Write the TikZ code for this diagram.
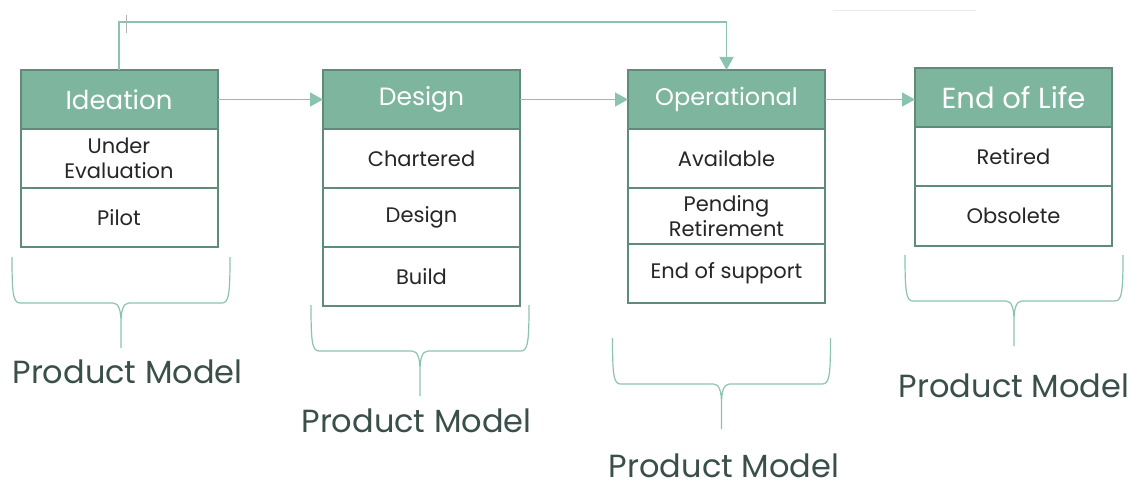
\documentclass[tikz,border=0pt]{standalone}
\usepackage{fontspec}
\setmainfont{Poppins}
\usepackage{xcolor}
\usetikzlibrary{arrows.meta, positioning, calc}

\definecolor{sage}{HTML}{7DB59E}
\definecolor{sagedark}{HTML}{5E8C79}
\definecolor{sageline}{HTML}{8CC3AE}
\definecolor{modeltext}{HTML}{3A4E4A}

\begin{document}
\begin{tikzpicture}[x=1pt, y=1pt,
  >={Triangle[length=13pt, width=14pt]}, node distance=0pt,
  phase/.style={draw=sagedark, fill=sage, line width=2pt, minimum width=197pt,
                minimum height=59pt, inner sep=0pt, outer sep=0pt, text=white,
                font=\fontsize{25}{27}\selectfont},
  status/.style={draw=sagedark, fill=white, line width=2pt, minimum width=197pt,
                 minimum height=59pt, inner sep=0pt, outer sep=0pt, align=center,
                 text=black!85, font=\fontsize{21}{25}\selectfont},
  flow/.style={->, draw=sageline, line width=1.5pt},
  group/.style={draw=sageline, line width=1.2pt},
  model/.style={anchor=base, inner sep=1pt, text=modeltext,
                font=\fontsize{32}{34}\selectfont},
  pmbrace/.pic={
    \draw[group] (-109,0) .. controls (-109,-36) and (-108,-46) .. (-101,-46)
      -- (-8,-46) .. controls (-2,-46) and (0,-54) .. (0,-66) -- (0,-91)
      (109,0) .. controls (109,-36) and (108,-46) .. (101,-46)
      -- (8,-46) .. controls (2,-46) and (0,-54) .. (0,-66);
  }]
  \useasboundingbox (0,0) rectangle (1134,488);

  \node[phase, font=\fontsize{26}{28}\selectfont] (ideation) at (119,388.5) {Ideation};
  \node[status, below=of ideation] (uneval) {Under\\Evaluation};
  \node[status, below=of uneval] (pilot) {Pilot};

  \node[phase] (design) at (421.5,388.5) {Design};
  \node[status, below=of design] (chartered) {Chartered};
  \node[status, below=of chartered] (designst) {Design};
  \node[status, below=of designst] (build) {Build};

  \node[phase, font=\fontsize{24}{26}\selectfont] (operational) at (726.5,388.5) {Operational};
  \node[status, below=of operational] (available) {Available};
  \node[status, below=of available, minimum height=56pt] (pending) {Pending\\Retirement};
  \node[status, below=of pending] (endsupport) {End of support};

  \node[phase, font=\fontsize{29}{31}\selectfont] (eol) at (1013.5,390) {End of Life};
  \node[status, below=of eol] (retired) {Retired};
  \node[status, below=of retired] (obsolete) {Obsolete};

  \draw[flow] (ideation.east) -- (ideation.east -| design.west);
  \draw[flow] (design.east) -- (design.east -| operational.west);
  \draw[flow] (operational.east) -- (operational.east -| eol.west);
  \coordinate (loop) at (0,466);
  \draw[flow] (ideation.north) |- (loop -| operational.north) -- (operational.north);

  \pic at (121,231) {pmbrace};
  \pic at (420,183) {pmbrace};
  \pic at (721.5,150) {pmbrace};
  \pic at (1014,233) {pmbrace};

  \node[model] (model1) at (127.5,105) {Product Model};
  \node[model] (model2) at (416.5,56) {Product Model};
  \node[model] (model3) at (724,11) {Product Model};
  \node[model] (model4) at (1014,91) {Product Model};

  % stray marks
  \draw[gray!60, line width=0.8pt] (126,473) -- (126,455);
  \draw[blue!10!gray!15, line width=1pt] (833,477) -- (976,477);
\end{tikzpicture}
\end{document}
